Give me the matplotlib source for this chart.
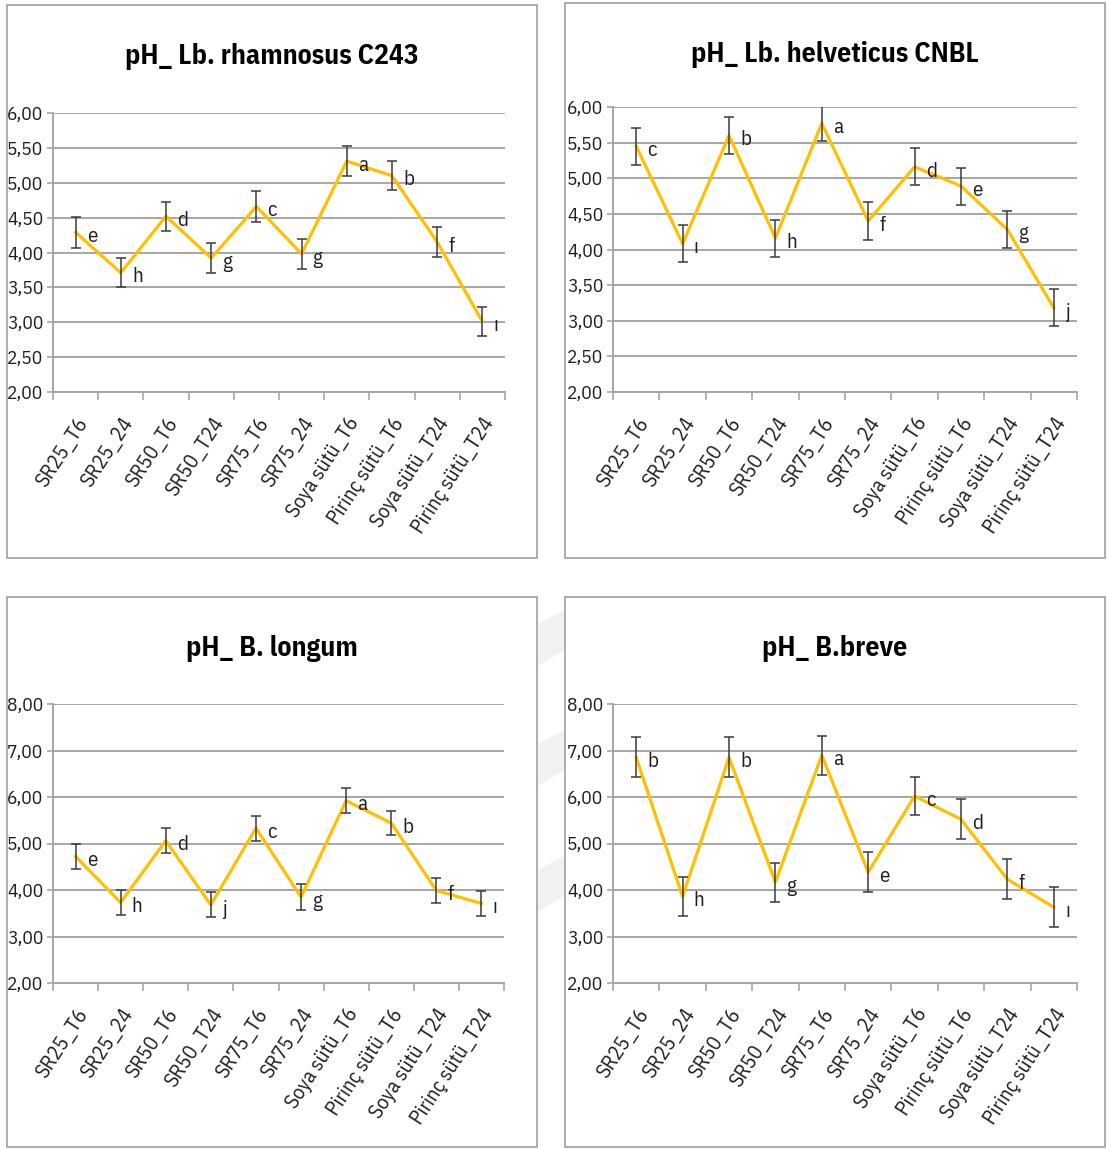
import matplotlib
matplotlib.use("Agg")
import matplotlib.pyplot as plt
from matplotlib.patches import Rectangle, Polygon
from matplotlib.ticker import FuncFormatter, MultipleLocator
import numpy as np

plt.rcParams['font.family'] = ['IBM Plex Sans Condensed', 'DejaVu Sans']

# sample groups on the x axis
groups = ["SR25_T6", "SR25_24", "SR50_T6", "SR50_T24", "SR75_T6", "SR75_24",
          "Soya sütü_T6", "Pirinç sütü_T6", "Soya sütü_T24", "Pirinç sütü_T24"]

# pH means, standard deviations and significance letters for each strain
rhamnosus_ph = [4.29, 3.71, 4.52, 3.92, 4.66, 3.98, 5.31, 5.10, 4.15, 3.01]
rhamnosus_sd = [0.22, 0.21, 0.21, 0.22, 0.22, 0.22, 0.22, 0.21, 0.21, 0.21]
rhamnosus_let = ["e", "h", "d", "g", "c", "g", "a", "b", "f", "ı"]

helveticus_ph = [5.45, 4.08, 5.60, 4.16, 5.77, 4.40, 5.16, 4.89, 4.28, 3.18]
helveticus_sd = [0.26, 0.26, 0.26, 0.26, 0.25, 0.26, 0.26, 0.26, 0.26, 0.26]
helveticus_let = ["c", "ı", "b", "h", "a", "f", "d", "e", "g", "j"]

longum_ph = [4.72, 3.73, 5.06, 3.68, 5.33, 3.85, 5.92, 5.44, 3.99, 3.71]
longum_sd = [0.27, 0.26, 0.27, 0.27, 0.27, 0.27, 0.27, 0.26, 0.27, 0.26]
longum_let = ["e", "h", "d", "j", "c", "g", "a", "b", "f", "ı"]

breve_ph = [6.85, 3.86, 6.85, 4.17, 6.90, 4.38, 6.02, 5.52, 4.23, 3.63]
breve_sd = [0.43, 0.42, 0.43, 0.42, 0.42, 0.43, 0.41, 0.43, 0.43, 0.43]
breve_let = ["b", "h", "b", "g", "a", "e", "c", "d", "f", "ı"]

W, H = 1107, 1149
fig = plt.figure(figsize=(W / 100, H / 100), dpi=100)


def px_rect(x0, y0, x1, y1):
    # pixel box (top-left origin) -> figure fraction [left, bottom, width, height]
    return [x0 / W, 1 - y1 / H, (x1 - x0) / W, (y1 - y0) / H]


def px(pts):
    return [(a / W, 1 - b / H) for a, b in pts]


# faint diagonal page stripes showing in the gap between the lower charts
for y0 in (610, 730, 856):
    fig.add_artist(Polygon(px([(538, y0 + 14), (564, y0), (564, y0 + 40), (538, y0 + 56)]),
                           closed=True, transform=fig.transFigure, facecolor="#F1F1F1",
                           edgecolor="none", zorder=-2))

panels = [
    ("pH_ Lb. rhamnosus C243", rhamnosus_ph, rhamnosus_sd, rhamnosus_let,
     (7, 5, 537, 558), (53, 113, 505, 392), (2, 6), 0.5),
    ("pH_ Lb. helveticus CNBL", helveticus_ph, helveticus_sd, helveticus_let,
     (565, 3, 1105, 558), (613, 107, 1077, 392), (2, 6), 0.5),
    ("pH_ B. longum", longum_ph, longum_sd, longum_let,
     (7, 597, 537, 1147), (53, 704, 504, 983), (2, 8), 1.0),
    ("pH_ B.breve", breve_ph, breve_sd, breve_let,
     (565, 597, 1105, 1147), (613, 704, 1077, 983), (2, 8), 1.0),
]

grid_col = "#A6A6A6"
text_col = "#1E1E1E"
x = np.arange(len(groups))

for title, ph, sd, letters, box, area, ylim, step in panels:
    # outer frame of each chart
    fig.add_artist(Rectangle((box[0] / W, 1 - box[3] / H), (box[2] - box[0]) / W,
                             (box[3] - box[1]) / H, transform=fig.transFigure,
                             facecolor="white", edgecolor="#A0A0A0", linewidth=1.2,
                             zorder=-1))
    fig.text(((box[0] + box[2]) / 2) / W, 1 - (box[1] + 52) / H, title,
             ha="center", va="center", fontsize=20, fontweight="bold", color="black")

    ax = fig.add_axes(px_rect(*area))
    ax.patch.set_alpha(0)
    ax.plot(x, ph, color="#FFC000", linewidth=2.3, zorder=3)
    ax.errorbar(x, ph, yerr=sd, fmt="none", ecolor="#3A3A3A", elinewidth=1.1,
                capsize=3.8, capthick=1.1, zorder=4)
    for xi, yi, lt in zip(x, ph, letters):
        ax.annotate(lt, (xi, yi), xytext=(8, -3), textcoords="offset points",
                    ha="left", va="center", fontsize=15, color=text_col)

    ax.set_xlim(-0.5, len(groups) - 0.5)
    ax.set_ylim(*ylim)
    ax.yaxis.set_major_locator(MultipleLocator(step))
    ax.yaxis.set_major_formatter(FuncFormatter(lambda v, p: f"{v:.2f}".replace(".", ",")))
    ax.grid(axis="y", color=grid_col, linewidth=1.4)
    ax.set_axisbelow(True)
    for s in ("top", "right"):
        ax.spines[s].set_visible(False)
    for s in ("left", "bottom"):
        ax.spines[s].set_color(grid_col)
        ax.spines[s].set_linewidth(1.4)

    ax.set_xticks(x)
    ax.set_xticklabels(groups, rotation=57, ha="right", rotation_mode="anchor",
                       fontsize=15, color=text_col)
    ax.set_xticks(np.arange(-0.5, len(groups)), minor=True)
    ax.tick_params(axis="x", which="major", length=0, pad=16)
    ax.tick_params(axis="x", which="minor", length=6, color=grid_col, width=1.2)
    ax.tick_params(axis="y", length=4, color=grid_col, width=1.2, labelsize=14,
                   labelcolor=text_col, pad=3)

fig.savefig("out.png", dpi=100)
